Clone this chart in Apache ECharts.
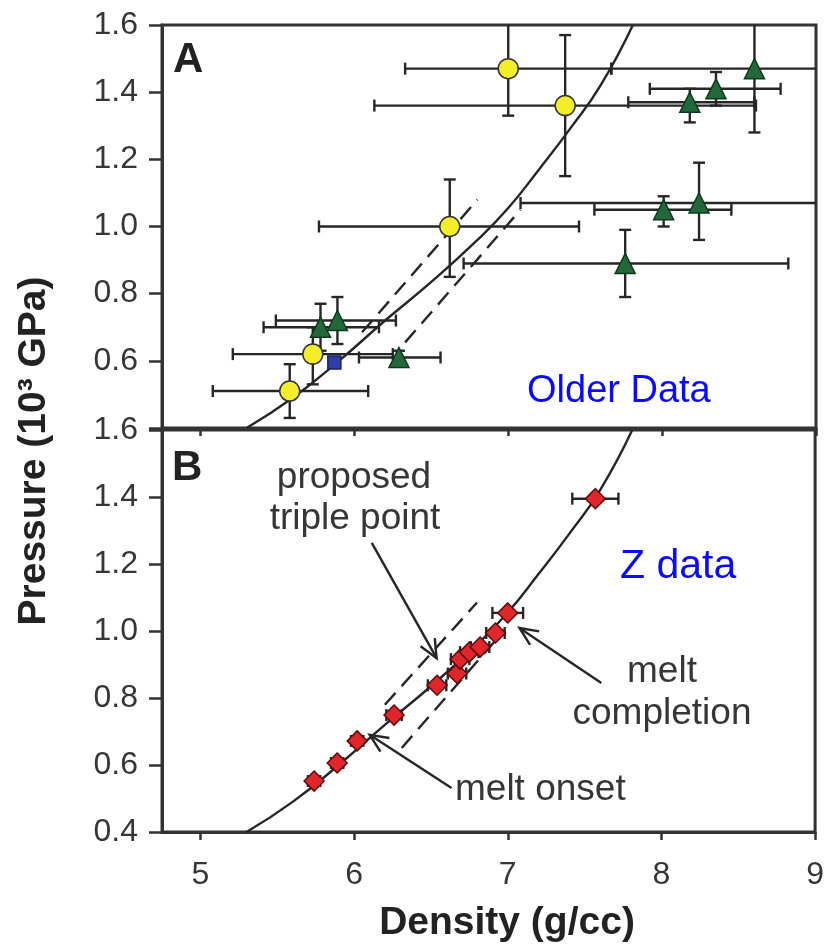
<!DOCTYPE html>
<html>
<head>
<meta charset="utf-8">
<script src="https://cdn.jsdelivr.net/npm/echarts@6/dist/echarts.min.js"></script>
<style>
  html, body { margin: 0; padding: 0; background: #fff; }
  #chart { width: 827px; height: 944px; }
</style>
</head>
<body>
<div id="chart"></div>
<script>
// axis ranges and ticks
const X_MIN = 4.75, X_MAX = 9;
const Y_MIN = 0.4, Y_MAX = 1.6;
const xTicks = [5, 6, 7, 8, 9];

// fitted curve (density, pressure)
const curvePts = [[5.30, 0.40], [5.60, 0.49], [5.90, 0.60], [6.20, 0.72], [6.50, 0.835],
  [6.80, 0.96], [7.00, 1.055], [7.20, 1.17], [7.40, 1.29], [7.60, 1.42], [7.81, 1.60]];

// dashed phase boundaries
const dashA1 = [[6.05, 0.685], [6.80, 1.08]];
const dashA2 = [[6.33, 0.655], [7.08, 1.05]];
const dashB1 = [[6.20, 0.78], [6.80, 1.085]];
const dashB2 = [[6.31, 0.651], [6.98, 1.003]];

// panel A: [x, y, xLow, xHigh, yLow, yHigh]
const yellowPts = [
  [7.00, 1.47, 6.33, 7.67, 1.33, 1.61],
  [7.37, 1.36, 6.13, 8.61, 1.15, 1.57],
  [6.62, 1.00, 5.77, 7.46, 0.85, 1.14],
  [5.73, 0.62, 5.21, 6.25, 0.53, 0.70],
  [5.58, 0.51, 5.08, 6.09, 0.43, 0.59]
];
const greenPts = [
  [5.78, 0.70, 5.41, 6.16, 0.63, 0.77],
  [5.89, 0.72, 5.49, 6.27, 0.65, 0.79],
  [6.29, 0.61, 6.03, 6.56, 0.59, 0.63],
  [7.76, 0.89, 6.71, 8.82, 0.79, 0.99],
  [8.01, 1.05, 7.56, 8.45, 1.00, 1.09],
  [8.24, 1.07, 7.08, 9.40, 0.96, 1.19],
  [8.18, 1.37, 7.78, 8.60, 1.31, 1.41],
  [8.35, 1.41, 7.92, 8.77, 1.36, 1.46],
  [8.60, 1.47, 7.67, 9.53, 1.28, 1.66]
];
const bluePts = [[5.87, 0.595]];

// panel B: [x, y, xLow, xHigh]
const redPts = [
  [5.74, 0.552, 5.70, 5.78], [5.89, 0.606, 5.85, 5.93], [6.02, 0.672, 5.98, 6.06],
  [6.26, 0.749, 6.21, 6.31], [6.54, 0.838, 6.48, 6.60], [6.67, 0.873, 6.61, 6.73],
  [6.69, 0.916, 6.63, 6.75], [6.75, 0.937, 6.69, 6.81], [6.82, 0.952, 6.76, 6.88],
  [6.92, 0.994, 6.86, 6.98], [7.00, 1.054, 6.90, 7.10], [7.57, 1.395, 7.42, 7.72]
];

// annotation arrows [tailX, tailY, tipX, tipY]
const arrowsB = [
  [6.115, 1.263, 6.537, 0.919],
  [7.609, 0.845, 7.076, 1.009],
  [6.634, 0.531, 6.101, 0.690]
];

const INK = '#262626';
const LABEL = '#363636';
const FONT = "'Liberation Sans', Arial, sans-serif";

function errorBars(params, api) {
  const x = api.value(0), y = api.value(1);
  const xl = api.value(2), xh = api.value(3), yl = api.value(4), yh = api.value(5);
  const style = { stroke: INK, lineWidth: 2.4 };
  const cap = 6;
  const kids = [];
  if (!isNaN(xl)) {
    const a = api.coord([Math.max(xl, X_MIN), y]);
    const b = api.coord([Math.min(xh, X_MAX), y]);
    kids.push({ type: 'line', shape: { x1: a[0], y1: a[1], x2: b[0], y2: b[1] }, style });
    if (xl >= X_MIN) kids.push({ type: 'line', shape: { x1: a[0], y1: a[1] - cap, x2: a[0], y2: a[1] + cap }, style });
    if (xh <= X_MAX) kids.push({ type: 'line', shape: { x1: b[0], y1: b[1] - cap, x2: b[0], y2: b[1] + cap }, style });
  }
  if (!isNaN(yl)) {
    const a = api.coord([x, Math.max(yl, Y_MIN)]);
    const b = api.coord([x, Math.min(yh, Y_MAX)]);
    kids.push({ type: 'line', shape: { x1: a[0], y1: a[1], x2: b[0], y2: b[1] }, style });
    if (yl >= Y_MIN) kids.push({ type: 'line', shape: { x1: a[0] - cap, y1: a[1], x2: a[0] + cap, y2: a[1] }, style });
    if (yh <= Y_MAX) kids.push({ type: 'line', shape: { x1: b[0] - cap, y1: b[1], x2: b[0] + cap, y2: b[1] }, style });
  }
  return { type: 'group', children: kids };
}

function arrow(params, api) {
  const p1 = api.coord([api.value(0), api.value(1)]);
  const p2 = api.coord([api.value(2), api.value(3)]);
  const ang = Math.atan2(p2[1] - p1[1], p2[0] - p1[0]);
  const L = 20, s = 0.42;
  const style = { stroke: INK, lineWidth: 2.4 };
  const h1 = [p2[0] - L * Math.cos(ang - s), p2[1] - L * Math.sin(ang - s)];
  const h2 = [p2[0] - L * Math.cos(ang + s), p2[1] - L * Math.sin(ang + s)];
  return {
    type: 'group',
    children: [
      { type: 'line', shape: { x1: p1[0], y1: p1[1], x2: p2[0], y2: p2[1] }, style },
      { type: 'polyline', shape: { points: [h1, p2, h2] }, style: { stroke: INK, lineWidth: 2.4, fill: null } }
    ]
  };
}

function xAxis(grid, showLabels) {
  return {
    type: 'value', gridIndex: grid, min: X_MIN, max: X_MAX,
    axisLine: { show: true, onZero: false, lineStyle: { color: '#333', width: 3 } },
    axisTick: { show: true, inside: false, length: 8, customValues: xTicks, lineStyle: { color: '#333', width: 2.5 } },
    axisLabel: {
      show: showLabels, customValues: xTicks, margin: 27,
      color: LABEL, fontSize: 32, fontFamily: FONT,
      formatter: v => String(Math.round(v))
    },
    splitLine: { show: false }
  };
}

function yAxis(grid, hideMin) {
  return {
    type: 'value', gridIndex: grid, min: Y_MIN, max: Y_MAX, interval: 0.2,
    axisLine: { show: true, onZero: false, lineStyle: { color: '#333', width: 3 } },
    axisTick: { show: true, inside: false, length: 13, lineStyle: { color: '#333', width: 2.5 } },
    axisLabel: {
      margin: 24, color: LABEL, fontSize: 32, fontFamily: FONT,
      formatter: v => (hideMin && v < Y_MIN + 0.05) ? '' : v.toFixed(1)
    },
    splitLine: { show: false }
  };
}

function lineSeries(data, grid, dashed) {
  return {
    type: 'line', xAxisIndex: grid, yAxisIndex: grid, data: data,
    showSymbol: false, symbol: 'none', silent: true, z: 3,
    smooth: dashed ? false : 0.5,
    lineStyle: { color: INK, width: 2.4, type: dashed ? [16, 9] : 'solid' }
  };
}

function markers(data, grid, symbol, size, fill, border) {
  return {
    type: 'scatter', xAxisIndex: grid, yAxisIndex: grid,
    data: data.map(d => [d[0], d[1]]),
    symbol: symbol, symbolSize: size, z: 5,
    itemStyle: { color: fill, borderColor: border, borderWidth: 1.5, opacity: 1 }
  };
}

function bars(data, grid) {
  return {
    type: 'custom', xAxisIndex: grid, yAxisIndex: grid, data: data,
    renderItem: errorBars, silent: true, z: 2
  };
}

const chart = echarts.init(document.getElementById('chart'));

function txt(text, x, y, font, fill, align, rot) {
  return {
    type: 'text', x: x, y: y, rotation: rot || 0, z: 10,
    style: {
      text: text, font: font, fill: fill,
      align: align, verticalAlign: 'middle',
      textAlign: align, textVerticalAlign: 'middle'
    }
  };
}

chart.setOption({
  animation: false,
  backgroundColor: '#fff',
  grid: [
    { left: 162, right: 11, top: 25, height: 403, show: true, borderColor: '#333', borderWidth: 3, containLabel: false },
    { left: 162, right: 11, top: 430, height: 402, show: true, borderColor: '#333', borderWidth: 3, containLabel: false }
  ],
  xAxis: [xAxis(0, false), xAxis(1, true)],
  yAxis: [yAxis(0, true), yAxis(1, false)],
  series: [
    bars(yellowPts, 0),
    bars(greenPts, 0),
    lineSeries(curvePts, 0, false),
    lineSeries(dashA1, 0, true),
    lineSeries(dashA2, 0, true),
    markers(greenPts, 0, 'triangle', 20, '#22683a', '#0e3a1c'),
    markers(bluePts, 0, 'rect', 13, '#2f3fa8', '#1a2266'),
    markers(yellowPts, 0, 'circle', 20, '#f4ee2a', '#333'),

    bars(redPts, 1),
    lineSeries(curvePts, 1, false),
    lineSeries(dashB1, 1, true),
    lineSeries(dashB2, 1, true),
    markers(redPts, 1, 'diamond', 20, '#e0262a', '#5a0c0c'),
    {
      type: 'custom', xAxisIndex: 1, yAxisIndex: 1, data: arrowsB,
      renderItem: arrow, silent: true, z: 4
    }
  ],
  graphic: [
    txt('A', 173, 60, "bold 42px " + FONT, '#222', 'left'),
    txt('B', 172, 468, "bold 42px " + FONT, '#222', 'left'),
    txt('Older Data', 527, 392, "38px " + FONT, '#0a0aff', 'left'),
    txt('Z data', 620, 567, "41px " + FONT, '#0a0aff', 'left'),
    txt('proposed', 354, 478, "37px " + FONT, LABEL, 'center'),
    txt('triple point', 355, 519, "37px " + FONT, LABEL, 'center'),
    txt('melt', 662, 672, "37px " + FONT, LABEL, 'center'),
    txt('completion', 662, 714, "37px " + FONT, LABEL, 'center'),
    txt('melt onset', 455, 790, "37px " + FONT, LABEL, 'left'),
    txt('Density (g/cc)', 507, 923, "bold 39px " + FONT, '#222', 'center'),
    txt('Pressure (10³ GPa)', 34, 451, "bold 39px " + FONT, '#222', 'center', Math.PI / 2)
  ]
});
</script>
</body>
</html>
